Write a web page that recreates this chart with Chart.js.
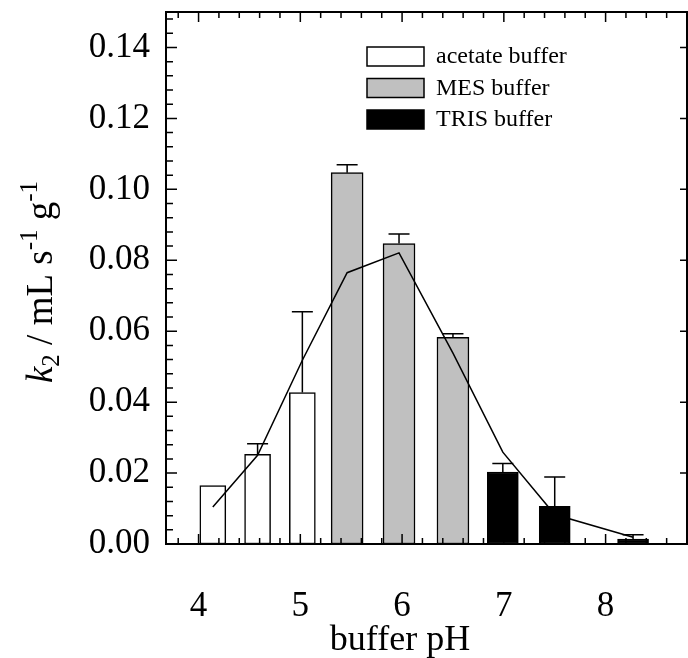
<!DOCTYPE html>
<html>
<head>
<meta charset="utf-8">
<script src="https://cdn.jsdelivr.net/npm/chart.js@4.4.1/dist/chart.umd.min.js"></script>
<style>
  html, body { margin: 0; padding: 0; background: #fff; }
  #wrap { width: 688px; height: 658px; }
</style>
</head>
<body>
<div id="wrap"><canvas id="chart" width="688" height="658"></canvas></div>
<script>
// values
const acetatePH = [4.14, 4.58, 5.02];
const acetateK2 = [0.0165, 0.0253, 0.0427];
const acetateErr = [0, 0.003, 0.0228];

const mesPH = [5.46, 5.97, 6.50];
const mesK2 = [0.1047, 0.0847, 0.0583];
const mesErr = [0.0022, 0.0027, 0.001];

const trisPH = [6.99, 7.50, 8.27];
const trisK2 = [0.0203, 0.0106, 0.0014];
const trisErr = [0.0024, 0.0083, 0.0012];

const fitPH = [4.14, 4.58, 5.02, 5.46, 5.97, 6.50, 6.99, 7.50, 8.27];
const fitK2 = [0.0104, 0.025, 0.0518, 0.0765, 0.0821, 0.0538, 0.0259, 0.0083, 0.0019];

const xTicks = [4, 5, 6, 7, 8];
const yTicks = [0, 0.02, 0.04, 0.06, 0.08, 0.10, 0.12, 0.14];

const SERIF = "'Liberation Serif', 'DejaVu Serif', serif";

const toPoints = (xs, ys) => xs.map((x, i) => ({ x: x, y: ys[i] }));

const barSet = (label, xs, ys, errs, fill, width) => ({
  type: "bar",
  label: label,
  data: toPoints(xs, ys),
  errors: errs,
  backgroundColor: fill,
  borderColor: "#000",
  borderWidth: 1.5,
  borderSkipped: false,
  barThickness: width,
  grouped: false,
  order: 1,
});

// error bars, drawn right after each bar dataset
const errorBars = {
  id: "errorBars",
  afterDatasetDraw(chart, args) {
    const ds = chart.data.datasets[args.index];
    if (!ds.errors) return;
    const ctx = chart.ctx;
    const y = chart.scales.y;
    ctx.save();
    ctx.strokeStyle = "#000";
    ctx.lineWidth = 1.5;
    args.meta.data.forEach((bar, i) => {
      const e = ds.errors[i];
      if (!e) return;
      const top = y.getPixelForValue(ds.data[i].y);
      const cap = y.getPixelForValue(ds.data[i].y + e);
      ctx.beginPath();
      ctx.moveTo(bar.x, top);
      ctx.lineTo(bar.x, cap);
      ctx.moveTo(bar.x - 10.5, cap);
      ctx.lineTo(bar.x + 10.5, cap);
      ctx.stroke();
    });
    ctx.restore();
  },
};

// frame, inward ticks, legend and axis titles
const frame = {
  id: "frame",
  afterDraw(chart) {
    const ctx = chart.ctx;
    const a = chart.chartArea;
    const xs = chart.scales.x;
    const ys = chart.scales.y;
    ctx.save();
    ctx.strokeStyle = "#000";
    ctx.lineWidth = 1.5;

    ctx.beginPath();
    for (let v = 3.8; v <= 8.61; v += 0.2) {
      const px = xs.getPixelForValue(v);
      const major = Math.abs(v - Math.round(v)) < 0.01;
      const len = major ? 10 : 6;
      ctx.moveTo(px, a.bottom);
      ctx.lineTo(px, a.bottom - len);
      ctx.moveTo(px, a.top);
      ctx.lineTo(px, a.top + len);
    }
    for (let v = 0.004; v <= 0.1481; v += 0.004) {
      const py = ys.getPixelForValue(v);
      const major = Math.abs(v / 0.02 - Math.round(v / 0.02)) < 0.01;
      ctx.moveTo(a.left, py);
      ctx.lineTo(a.left + (major ? 11 : 7), py);
      if (major) {
        ctx.moveTo(a.right, py);
        ctx.lineTo(a.right - 7, py);
      }
    }
    ctx.stroke();

    ctx.lineWidth = 2;
    ctx.strokeRect(a.left, a.top, a.right - a.left, a.bottom - a.top);

    // legend
    const bars = chart.data.datasets.filter((d) => d.type === "bar");
    ctx.font = "24px " + SERIF;
    ctx.textBaseline = "middle";
    bars.forEach((d, i) => {
      const top = 47 + i * 31.5;
      ctx.fillStyle = d.backgroundColor;
      ctx.fillRect(367, top, 57, 19);
      ctx.lineWidth = 1.5;
      ctx.strokeRect(367, top, 57, 19);
      ctx.fillStyle = "#000";
      ctx.fillText(d.label, 436, top + 10);
    });

    // x title
    ctx.font = "36px " + SERIF;
    ctx.textAlign = "center";
    ctx.textBaseline = "alphabetic";
    ctx.fillText("buffer pH", 400, 650);

    // y title: k2 / mL s-1 g-1
    const parts = [
      { t: "k", f: "italic 37px " + SERIF, dy: 0 },
      { t: "2", f: "25px " + SERIF, dy: 7 },
      { t: " / mL s", f: "37px " + SERIF, dy: 0 },
      { t: "-1", f: "25px " + SERIF, dy: -15 },
      { t: " g", f: "37px " + SERIF, dy: 0 },
      { t: "-1", f: "25px " + SERIF, dy: -15 },
    ];
    let total = 0;
    parts.forEach((p) => {
      ctx.font = p.f;
      p.w = ctx.measureText(p.t).width;
      total += p.w;
    });
    ctx.translate(52, 282);
    ctx.rotate(-Math.PI / 2);
    ctx.textAlign = "left";
    let cx = -total / 2;
    parts.forEach((p) => {
      ctx.font = p.f;
      ctx.fillText(p.t, cx, p.dy);
      cx += p.w;
    });
    ctx.restore();
  },
};

new Chart(document.getElementById("chart"), {
  data: {
    datasets: [
      {
        type: "line",
        label: "fit",
        data: toPoints(fitPH, fitK2),
        borderColor: "#000",
        borderWidth: 1.5,
        pointRadius: 0,
        fill: false,
        tension: 0,
        order: 0,
      },
      barSet("acetate buffer", acetatePH, acetateK2, acetateErr, "#ffffff", 26),
      barSet("MES buffer", mesPH, mesK2, mesErr, "#c0c0c0", 32),
      barSet("TRIS buffer", trisPH, trisK2, trisErr, "#000000", 31),
    ],
  },
  options: {
    responsive: false,
    animation: false,
    devicePixelRatio: 1,
    layout: { padding: { top: 12, right: 1, left: 0, bottom: 0 } },
    plugins: { legend: { display: false }, tooltip: { enabled: false } },
    scales: {
      x: {
        type: "linear",
        min: 3.68,
        max: 8.8,
        offset: false,
        grid: { display: false, drawTicks: false },
        border: { display: false },
        afterBuildTicks: (axis) => { axis.ticks = xTicks.map((v) => ({ value: v })); },
        afterFit: (axis) => {
          axis.height = 114;
          axis.paddingLeft = 0;
          axis.paddingRight = 0;
        },
        ticks: {
          padding: 42,
          color: "#000",
          font: { family: SERIF, size: 35 },
          callback: (v) => String(v),
        },
      },
      y: {
        type: "linear",
        min: 0,
        max: 0.15,
        grid: { display: false, drawTicks: false },
        border: { display: false },
        afterBuildTicks: (axis) => { axis.ticks = yTicks.map((v) => ({ value: v })); },
        afterFit: (axis) => {
          axis.width = 166;
          axis.paddingTop = 0;
          axis.paddingBottom = 0;
        },
        ticks: {
          padding: 16,
          color: "#000",
          font: { family: SERIF, size: 35 },
          callback: (v) => v.toFixed(2),
        },
      },
    },
  },
  plugins: [errorBars, frame],
});
</script>
</body>
</html>
